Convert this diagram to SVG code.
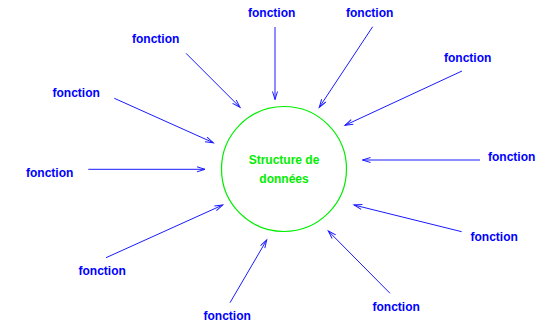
<svg xmlns="http://www.w3.org/2000/svg" width="540" height="323" viewBox="0 0 540 323">
  <defs>
    <marker id="arrow" markerUnits="userSpaceOnUse" markerWidth="12" markerHeight="8" refX="9" refY="3" orient="auto">
      <path d="M1,0.5 L9,3 L1,5.5" fill="none" stroke="#1a1aff" stroke-width="1"/>
    </marker>
    <style>
      .lbl { font-family: "Liberation Sans", Arial, sans-serif; font-size: 12px; font-weight: bold; fill: #0000ff; }
      .core { font-family: "Liberation Sans", Arial, sans-serif; font-size: 12px; font-weight: bold; fill: #00ee00; text-anchor: middle; }
      .link { stroke: #1a1aff; stroke-width: 1; fill: none; marker-end: url(#arrow); }
    </style>
  </defs>
  <rect width="540" height="323" fill="#ffffff"/>

  <!-- central data structure -->
  <g id="structure">
    <circle cx="284" cy="169" r="62.5" fill="none" stroke="#00ee00" stroke-width="1.2"/>
    <text class="core" x="284" y="164">Structure de</text>
    <text class="core" x="284" y="183">données</text>
  </g>

  <!-- functions around the structure -->
  <g id="f1"><text class="lbl" x="248" y="17">fonction</text></g>
  <g id="f2"><text class="lbl" x="346" y="17">fonction</text></g>
  <g id="f3"><text class="lbl" x="132" y="43">fonction</text></g>
  <g id="f4"><text class="lbl" x="444" y="61.5">fonction</text></g>
  <g id="f5"><text class="lbl" x="52.5" y="97">fonction</text></g>
  <g id="f6"><text class="lbl" x="488" y="161">fonction</text></g>
  <g id="f7"><text class="lbl" x="26" y="177">fonction</text></g>
  <g id="f8"><text class="lbl" x="470.5" y="240.5">fonction</text></g>
  <g id="f9"><text class="lbl" x="78.5" y="275">fonction</text></g>
  <g id="f10"><text class="lbl" x="203.5" y="320">fonction</text></g>
  <g id="f11"><text class="lbl" x="372.5" y="311">fonction</text></g>

  <!-- access arrows -->
  <g id="connectors">
    <line class="link" x1="275" y1="27" x2="275" y2="99.5"/>
    <line class="link" x1="372.7" y1="26.7" x2="319.3" y2="107.3"/>
    <line class="link" x1="462" y1="71" x2="345" y2="125.3"/>
    <line class="link" x1="480" y1="160" x2="362.5" y2="160"/>
    <line class="link" x1="461.7" y1="231.7" x2="354" y2="205"/>
    <line class="link" x1="390" y1="293.3" x2="328.3" y2="231"/>
    <line class="link" x1="230" y1="302.7" x2="266.7" y2="240"/>
    <line class="link" x1="106" y1="257.7" x2="222.7" y2="205"/>
    <line class="link" x1="88.3" y1="169.3" x2="205" y2="169.3"/>
    <line class="link" x1="114.3" y1="98.3" x2="213.3" y2="142.7"/>
    <line class="link" x1="186" y1="53.3" x2="240" y2="107.3"/>
  </g>
</svg>
